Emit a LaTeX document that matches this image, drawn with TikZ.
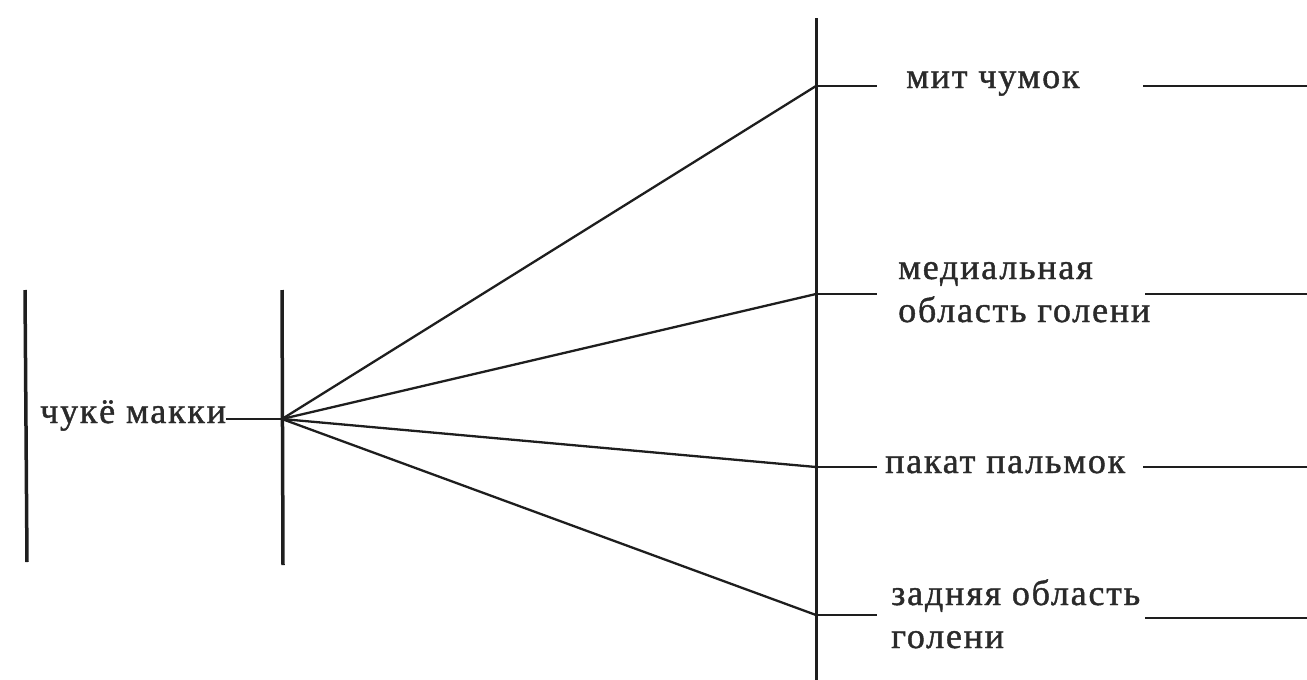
\documentclass[tikz,border=0pt]{standalone}
\usepackage{fontspec}
\setmainfont{Liberation Serif}
\newfontfamily\lblfont[LetterSpace=5,FakeBold=1.2]{Liberation Serif}
\usepackage{tikz}
\usetikzlibrary{positioning}
\definecolor{inkline}{HTML}{1e1e1e}
\definecolor{inktext}{HTML}{2a2a2a}

\begin{document}
\begin{tikzpicture}[x=1pt,y=-1pt,
  bar/.style={line width=3.5pt,inkline},
  ln/.style={line width=2.3pt,inkline},
  lbl/.style={font=\lblfont\fontsize{36}{43}\selectfont,inner sep=0pt,anchor=base west,align=left,text=inktext}]
\useasboundingbox (0,0) rectangle (1307,680);

% left bars and hub
\coordinate (b1t) at (25,290);
\coordinate (b1b) at (27,562);
\coordinate (b2t) at (282,290);
\coordinate (b2b) at (283,565);
\coordinate (hub) at (282,419);
\draw[bar](b1t)--(b1b);
\draw[bar](b2t)--(b2b);
\node[lbl](chm) at (40,423) {чукё макки};
\draw[ln](chm.east |- hub)--(hub);

% right bar
\coordinate (rt) at (816,18);
\coordinate (rb) at (816,680);
\draw[line width=3pt,inkline](rt)--(rb);
\coordinate (r1) at (816,86);
\coordinate (r2) at (816,294);
\coordinate (r3) at (816,467);
\coordinate (r4) at (816,615);

% fan
\draw[ln](hub)--(r1);
\draw[ln](hub)--(r2);
\draw[ln](hub)--(r3);
\draw[ln](hub)--(r4);

% ticks
\draw[ln](r1)--++(61,0);
\draw[ln](r2)--++(61,0);
\draw[ln](r3)--++(61,0);
\draw[ln](r4)--++(61,0);

% labels (base = last line)
\node[lbl](mit) at (906,88) {мит чумок};
\node[lbl](med) at (898,322) {медиальная\\область голени};
\node[lbl](pak) at (885,473) {пакат пальмок};
\node[lbl](zad) at (891,648) {задняя область\\голени};

% right stubs
\coordinate (e1) at (1143,86);
\coordinate (e2) at (1145,294);
\coordinate (e3) at (1143,467);
\coordinate (e4) at (1145,618);
\draw[ln](e1)--(e1 -| 1307,0);
\draw[ln](e2)--(e2 -| 1307,0);
\draw[ln](e3)--(e3 -| 1307,0);
\draw[ln](e4)--(e4 -| 1307,0);

\end{tikzpicture}
\end{document}
